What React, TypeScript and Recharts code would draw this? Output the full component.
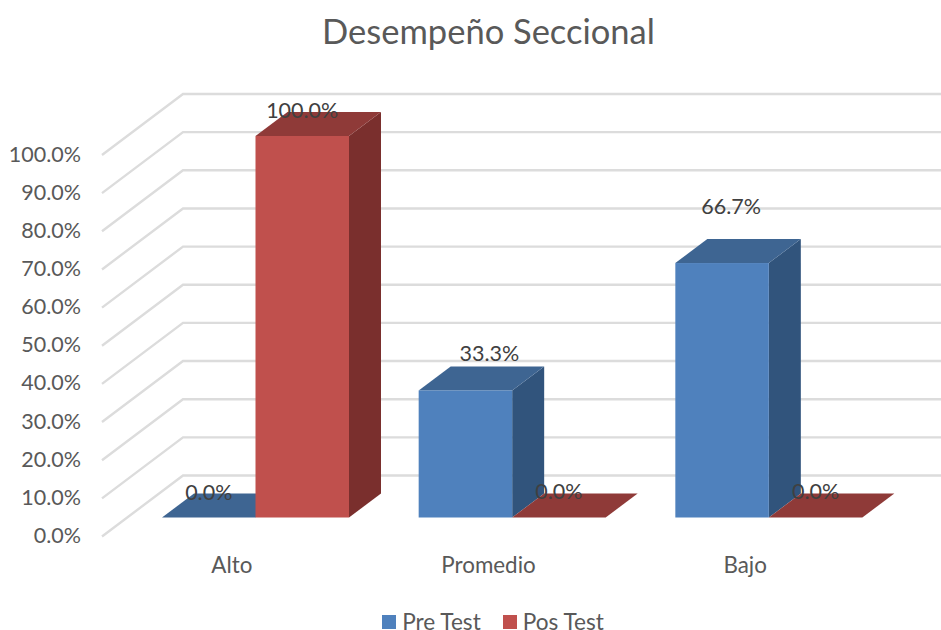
import { BarChart, Bar, XAxis, YAxis, CartesianGrid, Legend, LabelList } from "recharts";

const categories = ["Alto", "Promedio", "Bajo"];
const preTest = [0, 33.3, 66.7];
const posTest = [100, 0, 0];
const yTicks = [0, 10, 20, 30, 40, 50, 60, 70, 80, 90, 100];
const seriesOrder = ["Pre Test", "Pos Test"];

const data = categories.map((name, i) => ({ name, pre: preTest[i], pos: posTest[i] }));

// label placement relative to the bar top, Excel moved some of them by hand
const preLabelNudge = [[0, -26], [24, -37], [9, -57.5]];
const posLabelNudge = [[0, -26], [0, -27], [0, -27]];

const FONT = "Lato, sans-serif";
const DEPTH_X = 32;
const DEPTH_Y = 24;

const blue = { front: "#4f81bd", top: "#3e6592", side: "#31547c" };
const red = { front: "#c0504d", top: "#8f3a38", side: "#7a2f2d" };

function box3d(colors: typeof blue) {
  return (p: any) => {
    const { x, y, width, height } = p;
    const r = x + width;
    const b = y + height;
    return (
      <g>
        <path d={`M${r},${y}L${r + DEPTH_X},${y - DEPTH_Y}V${b - DEPTH_Y}L${r},${b}Z`} fill={colors.side} />
        <path d={`M${x},${y}L${x + DEPTH_X},${y - DEPTH_Y}H${r + DEPTH_X}L${r},${y}Z`} fill={colors.top} />
        <rect x={x} y={y} width={width} height={height} fill={colors.front} />
      </g>
    );
  };
}

function barLabel(nudge: number[][]) {
  return (p: any) => {
    const [dx, dy] = nudge[p.index];
    return (
      <text
        x={p.x + p.width / 2 + dx}
        y={p.y + dy}
        textAnchor="middle"
        dominantBaseline="central"
        fontFamily={FONT}
        fontSize={21.5}
        fill="#404040"
      >
        {Number(p.value).toFixed(1)}%
      </text>
    );
  };
}

// wall line: side wall diagonal, then along the back wall
function gridLine(p: any) {
  const y = p.y1;
  return (
    <path
      key={p.key}
      d={`M102,${y + 19}L183,${y - 42}H941`}
      fill="none"
      stroke="#dcdcdc"
      strokeWidth={2.4}
    />
  );
}

function YTick(p: any) {
  return (
    <text x={81} y={p.y + 17.5} textAnchor="end" dominantBaseline="central" fontFamily={FONT} fontSize={21.5} fill="#595959">
      {Number(p.payload.value).toFixed(1)}%
    </text>
  );
}

function XTick(p: any) {
  return (
    <text x={p.x - 23.5} y={564} textAnchor="middle" dominantBaseline="central" fontFamily={FONT} fontSize={22.4} fill="#595959">
      {p.payload.value}
    </text>
  );
}

function LegendContent(p: any) {
  return (
    <div
      style={{
        display: "flex",
        justifyContent: "center",
        gap: 22,
        fontFamily: FONT,
        fontSize: 22.6,
        lineHeight: "15px",
        color: "#595959",
      }}
    >
      {p.payload.map((item: any) => (
        <div key={item.value} style={{ display: "flex", alignItems: "center", gap: 6 }}>
          <span style={{ width: 14, height: 14, background: item.color, display: "inline-block" }} />
          {item.value}
        </div>
      ))}
    </div>
  );
}

export default function App() {
  return (
    <div style={{ position: "absolute", left: 0, top: 0, width: 941, height: 630, background: "#fff", overflow: "hidden" }}>
      <div
        style={{
          position: "absolute",
          left: 0,
          top: 9,
          width: 977,
          textAlign: "center",
          fontFamily: FONT,
          fontSize: 34.5,
          lineHeight: "44px",
          color: "#595959",
        }}
      >
        Desempeño Seccional
      </div>
      <BarChart
        width={941}
        height={630}
        data={data}
        barSize={93.5}
        barGap={0}
        margin={{ top: 136, right: 44, bottom: 82.5, left: 0 }}
      >
        <CartesianGrid vertical={false} horizontal={gridLine} />
        <XAxis dataKey="name" axisLine={false} tickLine={false} height={30} tick={XTick} interval={0} />
        <YAxis width={127} domain={[0, 100]} ticks={yTicks} axisLine={false} tickLine={false} tick={YTick} interval={0} />
        <Legend
          layout="horizontal"
          verticalAlign="middle"
          align="center"
          content={LegendContent}
          itemSorter={(item: any) => seriesOrder.indexOf(item.value)}
          wrapperStyle={{ top: 614, left: 0, width: 986 }}
        />
        <Bar dataKey="pre" name="Pre Test" fill={blue.front} shape={box3d(blue)} isAnimationActive={false}>
          <LabelList dataKey="pre" content={barLabel(preLabelNudge)} />
        </Bar>
        <Bar dataKey="pos" name="Pos Test" fill={red.front} shape={box3d(red)} isAnimationActive={false}>
          <LabelList dataKey="pos" content={barLabel(posLabelNudge)} />
        </Bar>
      </BarChart>
    </div>
  );
}
